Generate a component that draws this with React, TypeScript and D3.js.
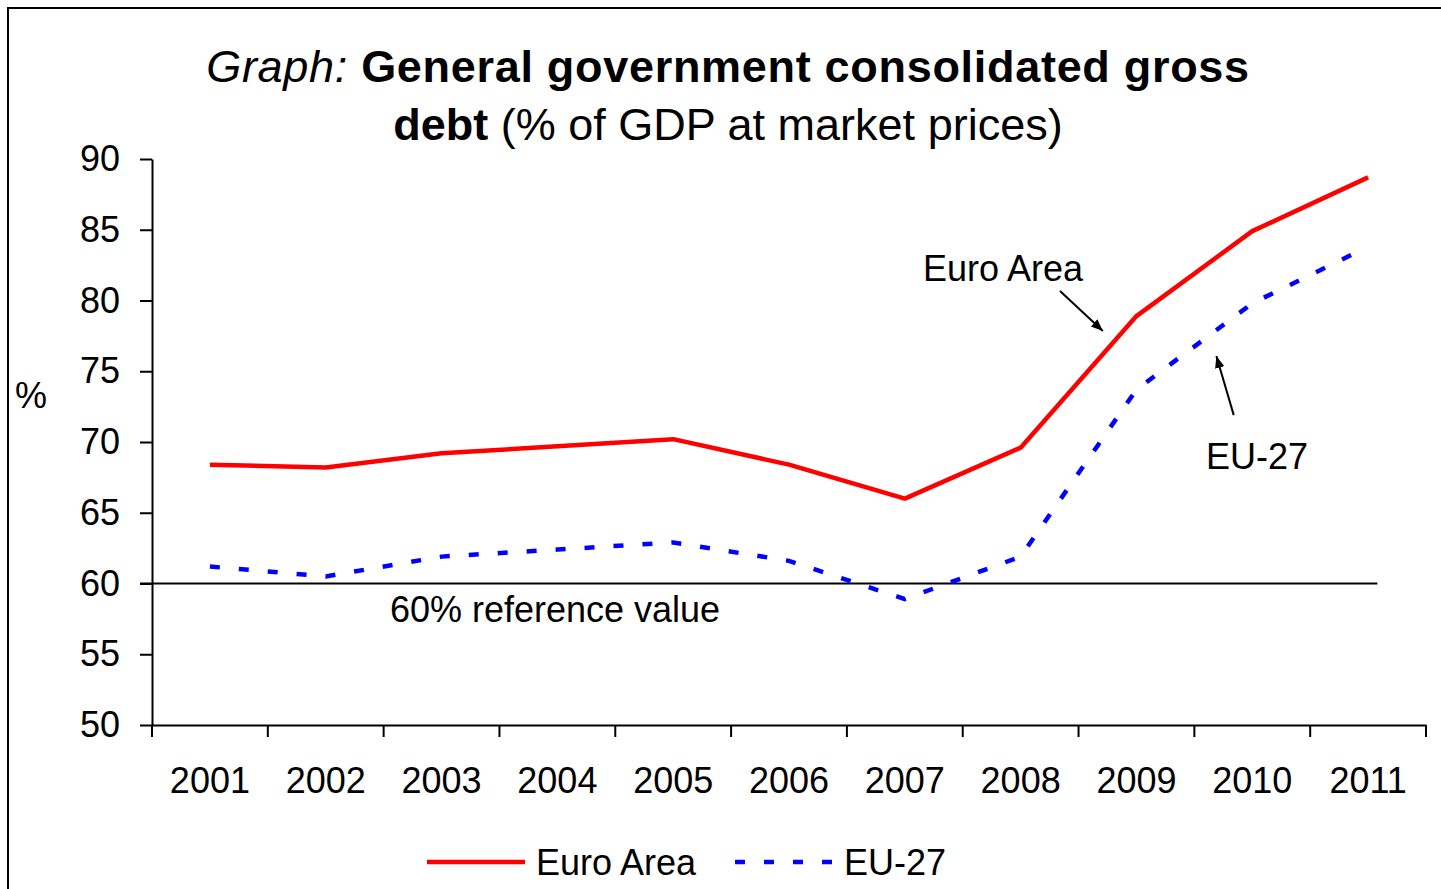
import { useEffect, useRef } from "react"
import * as d3 from "d3"

const years = ["2001", "2002", "2003", "2004", "2005", "2006", "2007", "2008", "2009", "2010", "2011"]
const euroArea = [68.4, 68.2, 69.2, 69.7, 70.2, 68.4, 66.0, 69.6, 78.9, 84.9, 88.7]
const eu27 = [61.2, 60.5, 61.9, 62.4, 62.9, 61.6, 58.9, 61.9, 73.7, 79.8, 83.8]
const yTicks = [50, 55, 60, 65, 70, 75, 80, 85, 90]
const referenceValue = 60

const FONT = "'Liberation Sans', Arial, sans-serif"

export default function App() {
  const ref = useRef<SVGSVGElement>(null)

  useEffect(() => {
    const svg = d3.select(ref.current)
    svg.selectAll("*").remove()

    const margin = { top: 159, left: 152 }
    const innerWidth = 1274
    const innerHeight = 566

    // outer frame
    svg.append("rect")
      .attr("x", 8).attr("y", 8)
      .attr("width", 1460).attr("height", 900)
      .attr("fill", "white").attr("stroke", "black").attr("stroke-width", 2)

    // title
    const title = svg.append("text")
      .attr("text-anchor", "middle")
      .attr("font-family", FONT)
      .attr("font-size", 45)
    const l1 = title.append("tspan").attr("x", 728).attr("y", 82).attr("letter-spacing", 0.7)
    l1.append("tspan").attr("font-style", "italic").text("Graph: ")
    l1.append("tspan").attr("font-weight", "bold").text("General government consolidated gross")
    const l2 = title.append("tspan").attr("x", 728).attr("y", 140)
    l2.append("tspan").attr("font-weight", "bold").text("debt")
    l2.append("tspan").text(" (% of GDP at market prices)")

    const xScale = d3.scaleBand().domain(years).range([0, innerWidth])
    // continuous index scale for annotations (index 0 = centre of first year)
    const xIdx = d3.scaleLinear().domain([-0.5, years.length - 0.5]).range([0, innerWidth])
    const yScale = d3.scaleLinear().domain([50, 90]).range([innerHeight, 0])

    const g = svg.append("g").attr("transform", `translate(${margin.left}, ${margin.top})`)

    // y axis
    const yAxis = d3.axisLeft(yScale).tickValues(yTicks).tickSize(12).tickSizeOuter(0).tickPadding(20)
    const yg = g.append("g").call(yAxis)
    yg.select(".domain").attr("stroke-width", 2)
    yg.selectAll(".tick line").attr("stroke-width", 2)
    yg.selectAll(".tick text").attr("font-size", 36).attr("font-family", FONT).attr("fill", "black")
    // y axis extends down to the first category tick
    g.append("line").attr("x1", 0).attr("x2", 0).attr("y1", innerHeight).attr("y2", innerHeight + 12)
      .attr("stroke", "black").attr("stroke-width", 2)

    // x axis (labels centred, ticks between categories)
    const xAxis = d3.axisBottom(xScale).tickSize(0).tickSizeOuter(0).tickPadding(42)
    const xg = g.append("g").attr("transform", `translate(0, ${innerHeight})`).call(xAxis)
    xg.select(".domain").attr("stroke-width", 2)
    xg.selectAll(".tick text").attr("font-size", 36).attr("font-family", FONT).attr("fill", "black")
    const bounds = years.map(y => xScale(y)!).concat([innerWidth])
    xg.selectAll(".bound").data(bounds).join("line")
      .attr("x1", d => d).attr("x2", d => d).attr("y1", 0).attr("y2", 12)
      .attr("stroke", "black").attr("stroke-width", 2)

    // 60% reference line
    g.append("line")
      .attr("x1", -12).attr("x2", xIdx(10.08))
      .attr("y1", yScale(referenceValue)).attr("y2", yScale(referenceValue))
      .attr("stroke", "black").attr("stroke-width", 2)
    g.append("text")
      .attr("x", xIdx(2.98)).attr("y", yScale(57.28))
      .attr("text-anchor", "middle").attr("font-size", 36).attr("font-family", FONT)
      .text("60% reference value")

    const line = d3.line<number>()
      .x((_, i) => xScale(years[i])! + xScale.bandwidth() / 2)
      .y(d => yScale(d))

    g.append("path").datum(eu27).attr("d", line)
      .attr("fill", "none").attr("stroke", "#0000ff").attr("stroke-width", 4.5)
      .attr("stroke-dasharray", "10 19")

    g.append("path").datum(euroArea).attr("d", line)
      .attr("fill", "none").attr("stroke", "#ff0000").attr("stroke-width", 4.5)
      .attr("stroke-linejoin", "round")

    // arrows
    svg.append("defs").append("marker")
      .attr("id", "arrow").attr("viewBox", "0 0 10 10")
      .attr("refX", 10).attr("refY", 5)
      .attr("markerWidth", 6).attr("markerHeight", 6)
      .attr("markerUnits", "strokeWidth")
      .attr("orient", "auto")
      .append("path").attr("d", "M0,1 L10,5 L0,9 Z").attr("fill", "black")

    const annotations = [
      { label: "Euro Area", tx: 6.157, ty: 81.38, ax1: 7.34, ay1: 80.67, ax2: 7.71, ay2: 77.84 },
      { label: "EU-27", tx: 8.6, ty: 68.09, ax1: 8.84, ay1: 71.9, ax2: 8.69, ay2: 76.08 },
    ]
    annotations.forEach(a => {
      g.append("text")
        .attr("x", xIdx(a.tx)).attr("y", yScale(a.ty))
        .attr("font-size", 36).attr("font-family", FONT)
        .text(a.label)
      g.append("line")
        .attr("x1", xIdx(a.ax1)).attr("y1", yScale(a.ay1))
        .attr("x2", xIdx(a.ax2)).attr("y2", yScale(a.ay2))
        .attr("stroke", "black").attr("stroke-width", 2)
        .attr("marker-end", "url(#arrow)")
    })

    // "%" label
    svg.append("text").attr("x", 15).attr("y", 408)
      .attr("font-size", 36).attr("font-family", FONT).text("%")

    // legend
    const legend = svg.append("g").attr("transform", "translate(427, 862)")
    const items = [
      { label: "Euro Area", color: "#ff0000", dash: null, x: 0 },
      { label: "EU-27", color: "#0000ff", dash: "10 19", x: 308 },
    ]
    items.forEach(it => {
      legend.append("line")
        .attr("x1", it.x).attr("x2", it.x + 98).attr("y1", 0).attr("y2", 0)
        .attr("stroke", it.color).attr("stroke-width", 4.5)
        .attr("stroke-dasharray", it.dash)
      legend.append("text")
        .attr("x", it.x + 109).attr("y", 13)
        .attr("font-size", 36).attr("font-family", FONT)
        .text(it.label)
    })
  }, [])

  return (
    <svg ref={ref} width={1441} height={889}
      style={{ position: "absolute", left: 0, top: 0, display: "block" }}></svg>
  )
}
